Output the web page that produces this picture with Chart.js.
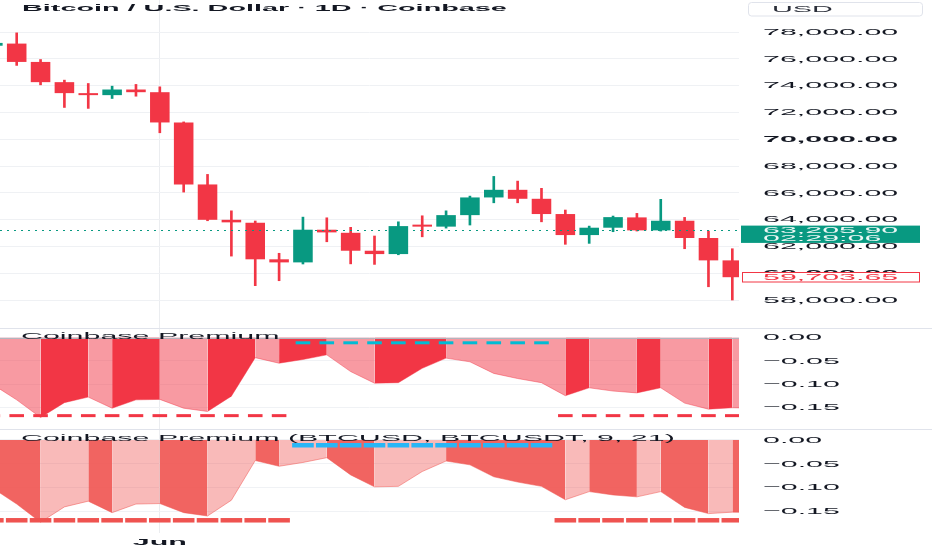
<!DOCTYPE html>
<html>
<head>
<meta charset="utf-8">
<script src="https://cdn.jsdelivr.net/npm/chart.js"></script>
<style>
  html, body { margin: 0; padding: 0; background: #ffffff; }
  #wrap { width: 932px; height: 550px; }
</style>
</head>
<body>
<div id="wrap"><canvas id="chart" width="932" height="550"></canvas></div>
<script>
// daily bars, the first one is only half on screen
const dates = ['May 25', 'May 26', 'May 27', 'May 28', 'May 29', 'May 30', 'May 31',
  'Jun 1', 'Jun 2', 'Jun 3', 'Jun 4', 'Jun 5', 'Jun 6', 'Jun 7', 'Jun 8', 'Jun 9', 'Jun 10',
  'Jun 11', 'Jun 12', 'Jun 13', 'Jun 14', 'Jun 15', 'Jun 16', 'Jun 17', 'Jun 18', 'Jun 19',
  'Jun 20', 'Jun 21', 'Jun 22', 'Jun 23', 'Jun 24', 'Jun 25', 'Jun 26'];

const open  = [76990, 77150, 75780, 74270, 73420, 73300, 73720, 73520, 71260, 66630, 63990,
  63770, 61040, 60810, 63250, 63020, 61680, 61430, 63580, 63480, 64340, 65660, 66230, 65560,
  64420, 62850, 63400, 64170, 63200, 63920, 62630, 60960];
const high  = [77300, 77950, 75960, 74420, 74170, 73970, 74100, 73920, 71300, 67380, 64660,
  63900, 61490, 64190, 64140, 63430, 62780, 63840, 64290, 64660, 65760, 67230, 66880, 66340,
  64720, 63520, 64270, 64470, 65520, 64170, 63150, 61830];
const low   = [76850, 75520, 74070, 72380, 72310, 73050, 73220, 70490, 66060, 63920, 61280,
  59070, 59440, 60690, 62350, 60700, 60660, 61380, 62720, 63370, 63600, 65260, 65260, 63840,
  62160, 62230, 63100, 63150, 63150, 61830, 58990, 58000];
const close = [77200, 75780, 74270, 73450, 73300, 73720, 73520, 71260, 66630, 63990, 63800,
  61040, 60810, 63250, 63050, 61680, 61430, 63520, 63480, 64340, 65660, 66230, 65560, 64420,
  62850, 63400, 64190, 63200, 63920, 62630, 60960, 59703.65];

const lastPrice = 63205.90;
const countdown = '02:29:06';

// coinbase premium, one value per day
const premium = [-0.101, -0.134, -0.172, -0.140, -0.128, -0.152, -0.134, -0.133, -0.152,
  -0.159, -0.126, -0.043, -0.055, -0.047, -0.037, -0.073, -0.098, -0.097, -0.066, -0.044,
  -0.052, -0.077, -0.088, -0.097, -0.125, -0.108, -0.115, -0.119, -0.108, -0.141, -0.154,
  -0.151, -0.152];
const regime = ['bear', 'bear', 'bear', 'bear', 'bear', 'bear', 'bear', 'bear', 'bear', 'bear',
  'bear', 'bear', 'bear', 'bull', 'bull', 'bull', 'bull', 'bull', 'bull', 'bull', 'bull',
  'bull', 'bull', 'bull', 'bear', 'bear', 'bear', 'bear', 'bear', 'bear', 'bear', 'bear', 'bear'];
const upperBand = -0.011;
const lowerBand = -0.168;

const priceTicks = [58000, 60000, 62000, 64000, 66000, 68000, 70000, 72000, 74000, 76000, 78000];
const premiumTicks = [0, -0.05, -0.10, -0.15];

const UP = '#089981', DOWN = '#f23645';
const TEXT = '#131722';
const FONT = '"Liberation Sans", Arial, sans-serif';
const SX = 3.2; // the picture is squeezed vertically, so all glyphs come out wide

function fmtPrice(v) {
  return v.toLocaleString('en-US', {minimumFractionDigits: 2, maximumFractionDigits: 2});
}
function fmtPrem(v) {
  if (v === 0) return '0.00';
  return (v < 0 ? '\u2212' : '') + Math.abs(v).toFixed(2);
}

function wideText(ctx, text, x, y, font, color, align) {
  ctx.save();
  ctx.font = font;
  ctx.fillStyle = color;
  ctx.textBaseline = 'middle';
  ctx.textAlign = 'left';
  const w = ctx.measureText(text).width * SX;
  ctx.translate(align === 'center' ? x - w / 2 : x, y);
  ctx.scale(SX, 1);
  ctx.fillText(text, 0, 0);
  ctx.restore();
}

const candleColor = i => close[i] >= open[i] ? UP : DOWN;
const bars = close.map((c, i) => i);

function premiumFill(dark, light) {
  return c => premium[c.p1DataIndex] > premium[c.p0DataIndex] ? dark : light;
}
function band(kind, level) {
  return premium.map((v, i) => ({x: i, y: regime[i] === kind ? level : null}));
}

const overlay = {
  id: 'overlay',
  afterDatasetsDraw(chart) {
    const {ctx, chartArea, scales: {y, y2}} = chart;
    ctx.save();
    // zero line of the first premium pane
    const z = Math.round(y2.getPixelForValue(0)) + 0.5;
    ctx.strokeStyle = '#b2b5be';
    ctx.lineWidth = 1;
    ctx.beginPath(); ctx.moveTo(chartArea.left, z); ctx.lineTo(chartArea.right, z); ctx.stroke();
    // last price dotted line
    const py = Math.round(y.getPixelForValue(lastPrice)) + 0.5;
    ctx.strokeStyle = UP;
    ctx.setLineDash([2, 5]);
    ctx.beginPath(); ctx.moveTo(chartArea.left, py); ctx.lineTo(chartArea.right, py); ctx.stroke();
    ctx.restore();
  },
  afterDraw(chart) {
    const {ctx, chartArea, width, scales: {x, y, y2, y3}} = chart;
    const lx = chartArea.right + 24;

    ctx.save();
    ctx.strokeStyle = '#e0e3eb';
    ctx.lineWidth = 1;
    [y2.top, y3.top].forEach(t => {
      const yy = Math.round(t) + 0.5;
      ctx.beginPath(); ctx.moveTo(0, yy); ctx.lineTo(width, yy); ctx.stroke();
    });
    ctx.restore();

    y.ticks.forEach(t => {
      const bold = t.value % 10000 === 0 ? 'bold ' : '';
      wideText(ctx, fmtPrice(t.value), lx, y.getPixelForValue(t.value), bold + '9.5px ' + FONT, TEXT);
    });
    [y2, y3].forEach(s => s.ticks.forEach(t => {
      wideText(ctx, fmtPrem(t.value), lx, s.getPixelForValue(t.value), '9.5px ' + FONT, TEXT);
    }));
    x.ticks.forEach(t => {
      wideText(ctx, dates[t.value].split(' ')[0], x.getPixelForValue(t.value), x.top + 9.3,
        'bold 9.5px ' + FONT, TEXT, 'center');
    });

    wideText(ctx, 'Bitcoin / U.S. Dollar \u00b7 1D \u00b7 Coinbase', 22, 8.4, 'bold 9px ' + FONT, TEXT);
    wideText(ctx, 'Coinbase Premium', 21, y2.top + 8.7, '9.5px ' + FONT, TEXT);
    wideText(ctx, 'Coinbase Premium (BTCUSD, BTCUSDT, 9, 21)', 21, y3.top + 9.3, '9.5px ' + FONT, TEXT);

    // currency button
    ctx.save();
    ctx.strokeStyle = '#e0e3eb';
    ctx.fillStyle = '#ffffff';
    ctx.beginPath();
    ctx.roundRect(chartArea.right + 9.5, 2.5, 174, 13.5, 3);
    ctx.fill(); ctx.stroke();
    ctx.restore();
    wideText(ctx, 'USD', chartArea.right + 33, 9.3, '9px ' + FONT, '#2a2e39');

    // last price label with bar countdown
    const py = y.getPixelForValue(lastPrice);
    ctx.save();
    ctx.fillStyle = UP;
    ctx.fillRect(chartArea.right + 2, py - 4.7, 179, 17.3);
    ctx.restore();
    wideText(ctx, fmtPrice(lastPrice), lx, py, '9.5px ' + FONT, 'rgba(255,255,255,0.92)');
    wideText(ctx, countdown, lx, py + 8, '9.5px ' + FONT, 'rgba(255,255,255,0.92)');

    // previous close label
    const pc = close[close.length - 1];
    const cy = y.getPixelForValue(pc);
    ctx.save();
    ctx.fillStyle = '#ffffff';
    ctx.strokeStyle = DOWN;
    ctx.lineWidth = 1;
    ctx.fillRect(chartArea.right + 3, cy - 5, 177, 9.5);
    ctx.strokeRect(chartArea.right + 3.5, Math.round(cy - 5) + 0.5, 177, 9.5);
    ctx.restore();
    wideText(ctx, fmtPrice(pc), lx, cy - 0.3, '9.5px ' + FONT, DOWN);
  }
};

const noTicks = {display: false};
new Chart(document.getElementById('chart'), {
  type: 'bar',
  data: {
    datasets: [
      {
        label: 'wick',
        data: bars.map(i => ({x: i, y: [low[i], high[i]]})),
        backgroundColor: c => candleColor(c.dataIndex),
        barThickness: 2,
        grouped: false,
        order: 2,
        yAxisID: 'y'
      },
      {
        label: 'body',
        data: bars.map(i => ({x: i, y: [open[i], close[i]]})),
        backgroundColor: c => candleColor(c.dataIndex),
        barPercentage: 0.82,
        categoryPercentage: 1,
        minBarLength: 2,
        grouped: false,
        order: 1,
        yAxisID: 'y'
      },
      {
        type: 'line',
        label: 'Coinbase Premium',
        data: premium.map((v, i) => ({x: i, y: v})),
        yAxisID: 'y2',
        fill: 'origin',
        borderColor: 'rgba(242,54,69,0.45)',
        borderWidth: 1,
        pointRadius: 0,
        segment: {backgroundColor: premiumFill('#f23645', 'rgba(242,54,69,0.5)')},
        order: 5
      },
      {
        type: 'line', label: 'lower', data: band('bear', lowerBand), yAxisID: 'y2',
        showLine: false, pointStyle: 'line', pointRadius: 7.3, pointBorderWidth: 3,
        pointBorderColor: '#f23645', order: 0
      },
      {
        type: 'line', label: 'upper', data: band('bull', upperBand), yAxisID: 'y2',
        showLine: false, pointStyle: 'line', pointRadius: 7.3, pointBorderWidth: 3,
        pointBorderColor: '#00bcd4', order: 0
      },
      {
        type: 'line',
        label: 'Coinbase Premium (BTCUSD, BTCUSDT, 9, 21)',
        data: premium.map((v, i) => ({x: i, y: v})),
        yAxisID: 'y3',
        fill: 'origin',
        borderColor: 'rgba(239,83,80,0.5)',
        borderWidth: 1,
        pointRadius: 0,
        segment: {backgroundColor: premiumFill('rgba(239,83,80,0.4)', 'rgba(239,83,80,0.9)')},
        order: 5
      },
      {
        type: 'line', label: 'lower 2', data: band('bear', lowerBand), yAxisID: 'y3',
        showLine: false, pointStyle: 'line', pointRadius: 10.8, pointBorderWidth: 4.5,
        pointBorderColor: '#ef5350', order: 0
      },
      {
        type: 'line', label: 'upper 2', data: band('bull', upperBand), yAxisID: 'y3',
        showLine: false, pointStyle: 'line', pointRadius: 10.8, pointBorderWidth: 4.5,
        pointBorderColor: '#29b6f6', order: 0
      }
    ]
  },
  options: {
    responsive: false,
    animation: false,
    layout: {padding: 0, autoPadding: false},
    plugins: {legend: {display: false}, tooltip: {enabled: false}},
    scales: {
      x: {
        type: 'linear',
        min: 0.30,
        max: 31.28,
        offset: false,
        ticks: noTicks,
        grid: {offset: false, color: '#ebedf0', drawTicks: false},
        border: {display: false},
        afterBuildTicks: s => {
          s.ticks = dates.map((d, i) => ({value: i, d: d}))
            .filter(t => t.d.endsWith(' 1'))
            .map(t => ({value: t.value}));
        },
        afterFit: s => { s.height = 17; }
      },
      y: {
        position: 'right',
        stack: 'panes',
        stackWeight: 328,
        min: 55910,
        max: 80405,
        beginAtZero: false,
        ticks: noTicks,
        grid: {color: '#eff1f4', drawTicks: false},
        border: {display: false},
        afterBuildTicks: s => { s.ticks = priceTicks.map(v => ({value: v})); },
        afterFit: s => { s.width = 193; }
      },
      y2: {
        position: 'right',
        stack: 'panes',
        stackWeight: 101,
        min: -0.1968,
        max: 0.0209,
        beginAtZero: false,
        ticks: noTicks,
        grid: {color: '#f0f2f5', drawTicks: false},
        border: {display: false},
        afterBuildTicks: s => { s.ticks = premiumTicks.map(v => ({value: v})); },
        afterFit: s => { s.width = 193; }
      },
      y3: {
        position: 'right',
        stack: 'panes',
        stackWeight: 104,
        min: -0.1946,
        max: 0.0230,
        beginAtZero: false,
        ticks: noTicks,
        grid: {color: '#f0f2f5', drawTicks: false},
        border: {display: false},
        afterBuildTicks: s => { s.ticks = premiumTicks.map(v => ({value: v})); },
        afterFit: s => { s.width = 193; }
      }
    }
  },
  plugins: [overlay]
});
</script>
</body>
</html>
